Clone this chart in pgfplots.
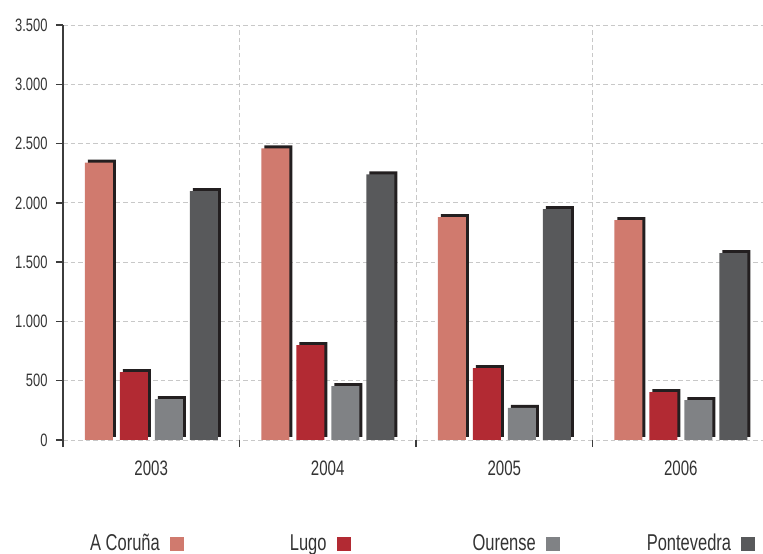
\documentclass[border=0pt]{standalone}
\usepackage{fontspec}
\setmainfont{Liberation Sans}[FakeStretch=0.72]
\usepackage{pgfplots}
\pgfplotsset{compat=1.18}
\usetikzlibrary{shadows}
\definecolor{cA}{HTML}{D07A6E}
\definecolor{cL}{HTML}{B22A33}
\definecolor{cO}{HTML}{808285}
\definecolor{cP}{HTML}{58595B}
\definecolor{shc}{HTML}{231F20}
\definecolor{gridc}{HTML}{C8C8C8}
\definecolor{axisc}{HTML}{3C3C3C}
\definecolor{txt}{HTML}{333333}
\begin{document}
\begin{tikzpicture}
\begin{axis}[
 at={(63bp,114bp)}, anchor=south west,
 scale only axis, width=700bp, height=415bp,
 xmin=-0.5, xmax=3.466, ymin=0, ymax=3500,
 ybar, bar width=28bp,
 axis x line*=bottom, axis y line*=left,
 x axis line style={draw=none},
 y axis line style={draw=axisc, line width=1.3bp},
 xtick={-0.5,0.5,1.5,2.5}, xticklabels={},
 extra x ticks={0,1,2,3}, extra x tick labels={2003,2004,2005,2006},
 extra x tick style={xmajorgrids=false, major tick length=0pt},
 ytick={0,500,...,3500},
 tick style={draw=axisc, line width=1.3bp},
 major tick length=7bp,
 tick align=outside,
 xmajorgrids, ymajorgrids,
 grid style={gridc, dash pattern=on 4.5bp off 3bp, line width=0.9bp},
 /pgf/number format/.cd, 1000 sep={.}, fixed, assume math mode=true,
 /pgfplots/.cd,
 yticklabel style={font=\fontsize{18}{21}\selectfont, text=txt, xshift=-5bp},
 xticklabel style={font=\fontsize{21}{24}\selectfont, text=txt, yshift=-17bp},
 legend columns=4,
 legend plot pos=right,
 sq/.style={legend image code/.code={\path (0bp,0bp); \fill[##1] (8bp,-8bp) rectangle (22bp,6bp);}},
 legend style={at={(0.0314,-0.248)}, anchor=west, draw=none, fill=none,
   font=\fontsize{23}{26}\selectfont, text=txt,
   /tikz/every even column/.append style={column sep=0pt}},
 shd/.style={general shadow={fill=shc, shadow xshift=3bp, shadow yshift=3bp}},
]
\addlegendimage{sq, fill=cA, draw=none}
\addlegendentry{A Coruña}
\addlegendimage{sq, fill=cL, draw=none}
\addlegendentry{\hspace*{104bp}Lugo}
\addlegendimage{sq, fill=cO, draw=none}
\addlegendentry{\hspace*{120bp}Ourense}
\addlegendimage{sq, fill=cP, draw=none}
\addlegendentry{\hspace*{85bp}Pontevedra}
\addplot[fill=cA, draw=none, bar shift=-52.5bp, shd, forget plot] coordinates {(0,2340) (1,2460) (2,1880) (3,1855)};
\addplot[fill=cL, draw=none, bar shift=-17.5bp, shd, forget plot] coordinates {(0,573) (1,800) (2,607) (3,404)};
\addplot[fill=cO, draw=none, bar shift=17.5bp, shd, forget plot] coordinates {(0,345) (1,455) (2,270) (3,337)};
\addplot[fill=cP, draw=none, bar shift=52.5bp, shd, forget plot] coordinates {(0,2098) (1,2241) (2,1947) (3,1576)};
\end{axis}
\pgfresetboundingbox
\path (0,0) rectangle (763bp,554bp);
\end{tikzpicture}
\end{document}
